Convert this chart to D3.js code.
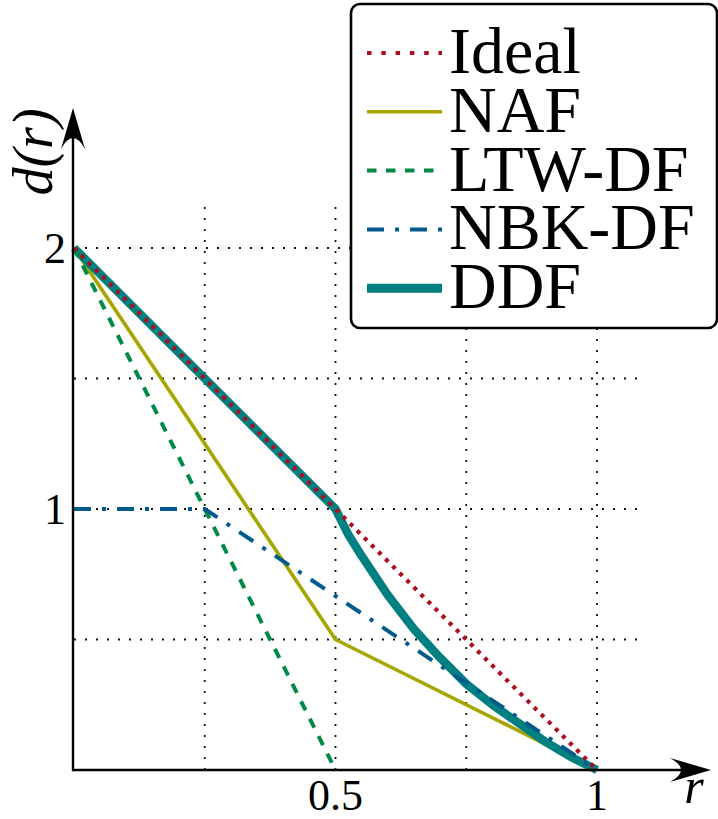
<!DOCTYPE html>
<html>
<head>
<meta charset="utf-8">
<script src="https://cdn.jsdelivr.net/npm/d3@7"></script>
</head>
<body style="margin:0">
<script>
// data: [r, d(r)]
var ideal = [[0, 2], [1, 0]];
var naf = [[0, 2], [0.5, 0.5], [1, 0]];
var ltw = [[0, 2], [0.5, 0]];
var nbk = [[0, 1], [0.25, 1], [1, 0]];
var ddf = [[0, 2], [0.5, 1], [0.525, 0.9], [0.55, 0.82], [0.6, 0.67], [0.65, 0.54],
           [0.7, 0.43], [0.75, 0.33], [0.8, 0.25], [0.85, 0.18], [0.9, 0.11],
           [0.95, 0.05], [1, 0]];

var legendNames = ["Ideal", "NAF", "LTW-DF", "NBK-DF", "DDF"];
var xTickVals = [0.5, 1];
var yTickVals = [1, 2];
var xGridVals = [0.25, 0.5, 0.75, 1];
var yGridVals = [0.5, 1, 1.5, 2];

var width = 718, height = 819;
var fontName = "Liberation Serif";

var x = d3.scaleLinear().domain([0, 1]).range([74, 597]);
var y = d3.scaleLinear().domain([0, 2]).range([770, 248]);

var svg = d3.select("body").append("svg")
    .attr("width", width)
    .attr("height", height);

function label(sel, size, italic) {
    sel.attr("font-family", fontName)
        .style("font-family", () => "'" + fontName + "', monospace")
        .style("font-size", size + "px");
    if (italic) sel.style("font-style", "italic");
    return sel;
}

// grid
var grid = svg.append("g")
    .attr("stroke", "#111")
    .attr("stroke-width", 1.8)
    .attr("stroke-dasharray", "2,9");

grid.selectAll("line.v").data(xGridVals).enter().append("line")
    .attr("class", "v")
    .attr("x1", d => x(d)).attr("x2", d => x(d))
    .attr("y1", y(0)).attr("y2", y(2.176));

grid.selectAll("line.h").data(yGridVals).enter().append("line")
    .attr("class", "h")
    .attr("y1", d => y(d)).attr("y2", d => y(d))
    .attr("x1", x(0)).attr("x2", x(1.088));

// series styles (drawn in this order)
var series = [
    {name: "NAF", data: naf, color: "#a8a400", w: 3.6, dash: null, ldash: null},
    {name: "DDF", data: ddf, color: "#008080", w: 8.5, dash: null, ldash: null},
    {name: "LTW-DF", data: ltw, color: "#008a46", w: 4, dash: "10,9.5", ldash: "9.5,9.5"},
    {name: "NBK-DF", data: nbk, color: "#005a8c", w: 4, dash: "17,11,4,11", ldash: "17,11,4,11"},
    {name: "Ideal", data: ideal, color: "#ac1020", w: 4.2, dash: "4,6", ldash: "4.5,9.8"}
];

var line = d3.line()
    .x(d => x(d[0]))
    .y(d => y(d[1]));

svg.append("g").selectAll("path").data(series).enter().append("path")
    .attr("d", d => line(d.data))
    .attr("fill", "none")
    .attr("stroke", d => d.color)
    .attr("stroke-width", d => d.w)
    .attr("stroke-dasharray", d => d.dash)
    .attr("stroke-linejoin", "round");

// axes
var axis = svg.append("g");
var arrow = "M0,0 L-41,-12 Q-19,0 -41,12 Z";

axis.append("line")
    .attr("x1", x(0) - 1).attr("x2", 700)
    .attr("y1", y(0)).attr("y2", y(0))
    .attr("stroke", "#000").attr("stroke-width", 2.4);
axis.append("path")
    .attr("d", arrow)
    .attr("transform", "translate(711," + y(0) + ")")
    .attr("fill", "#000");

axis.append("line")
    .attr("x1", x(0) - 1).attr("x2", x(0) - 1)
    .attr("y1", y(0) + 1.2).attr("y2", 118)
    .attr("stroke", "#000").attr("stroke-width", 2.4);
axis.append("path")
    .attr("d", arrow)
    .attr("transform", "translate(" + (x(0) - 1) + ",108) rotate(-90)")
    .attr("fill", "#000");

// tick labels
svg.selectAll("text.xt").data(xTickVals).enter().append("text")
    .attr("class", "xt")
    .attr("x", d => x(d))
    .attr("y", 810)
    .attr("text-anchor", "middle")
    .call(label, 44)
    .text(d => d);

svg.selectAll("text.yt").data(yTickVals).enter().append("text")
    .attr("class", "yt")
    .attr("x", 66)
    .attr("y", d => y(d) + 15)
    .attr("text-anchor", "end")
    .call(label, 44)
    .text(d => d);

// axis labels
svg.append("text")
    .attr("x", 694)
    .attr("y", 803)
    .attr("text-anchor", "middle")
    .call(label, 50, true)
    .text("r");

svg.append("text")
    .attr("transform", "translate(52,152) rotate(-90)")
    .attr("text-anchor", "middle")
    .call(label, 56, true)
    .text("d(r)");

// legend
var legend = svg.append("g");
legend.append("rect")
    .attr("x", 351).attr("y", 4)
    .attr("width", 366).attr("height", 324)
    .attr("rx", 9)
    .attr("fill", "#fff")
    .attr("stroke", "#000")
    .attr("stroke-width", 2.6);

var rows = legendNames.map(n => series.find(s => s.name === n));

rows.forEach(function(d, i) {
    var yy = 73 + i * 58.8;
    legend.append("line")
        .attr("x1", 367).attr("x2", 442)
        .attr("y1", yy - 20).attr("y2", yy - 20)
        .attr("stroke", d.color)
        .attr("stroke-width", d.name === "DDF" ? 9 : d.w)
        .attr("stroke-dasharray", d.ldash);
    legend.append("text")
        .attr("x", 449)
        .attr("y", yy)
        .call(label, 66)
        .text(d.name);
});
</script>
</body>
</html>
